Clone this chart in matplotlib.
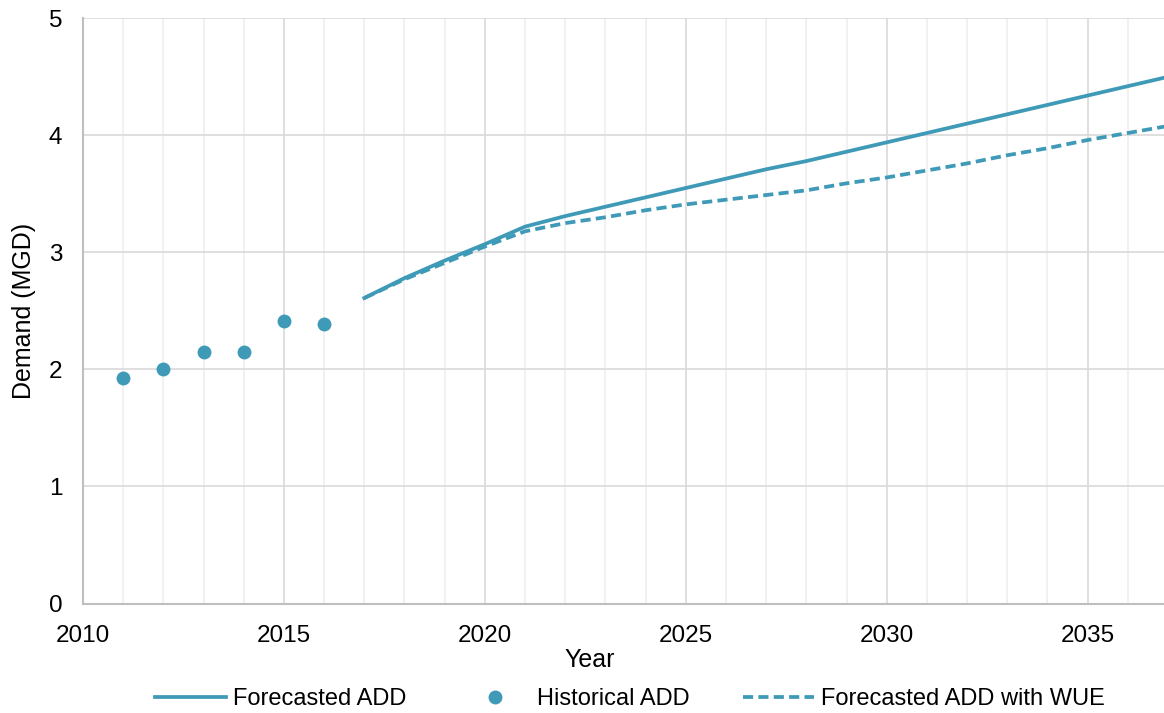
import numpy as np
import matplotlib
matplotlib.use("Agg")
import matplotlib.pyplot as plt
from matplotlib.ticker import MultipleLocator

plt.rcParams['font.family'] = ['Liberation Sans', 'DejaVu Sans']

# ---------------------- DATA ----------------------------
hist_years = [2011, 2012, 2013, 2014, 2015, 2016]
hist_add = [1.93, 2.00, 2.15, 2.15, 2.41, 2.39]

fc_years = list(range(2017, 2038))
fc_add = [2.61, 2.78, 2.93, 3.07, 3.22, 3.31, 3.39, 3.47, 3.55, 3.63, 3.71,
          3.78, 3.86, 3.94, 4.02, 4.10, 4.18, 4.26, 4.34, 4.42, 4.50]
fc_add_wue = [2.61, 2.77, 2.91, 3.05, 3.18, 3.25, 3.30, 3.36, 3.41, 3.45, 3.49,
              3.53, 3.59, 3.64, 3.70, 3.76, 3.83, 3.89, 3.96, 4.02, 4.08]

COL = "#3f9ab7"
W, H = 1164, 713

# ---------------------- PLOT ----------------------------
fig = plt.figure(figsize=(W / 100, H / 100), dpi=100)
ax = fig.add_axes([83 / W, 1 - 603.5 / H, 1 - 83 / W, (603.5 - 18.3) / H])

ax.plot(fc_years, fc_add, color=COL, lw=2.7, label="Forecasted ADD", zorder=3)
ax.plot(hist_years, hist_add, 'o', color=COL, ms=10, mec='none',
        label="Historical ADD", zorder=3)
ax.plot(fc_years, fc_add_wue, color=COL, lw=2.7, dashes=(2.7, 1.4),
        label="Forecasted ADD with WUE", zorder=3)

ax.set_xlim(2010, 2036.9)
ax.set_ylim(0, 5)
ax.xaxis.set_major_locator(MultipleLocator(5))
ax.xaxis.set_minor_locator(MultipleLocator(1))
ax.yaxis.set_major_locator(MultipleLocator(1))

ax.grid(which='major', color='#d9d9d9', lw=1.2, zorder=0)
ax.grid(which='minor', axis='x', color='#efefef', lw=1.2, zorder=0)
ax.set_axisbelow(True)

for s in ['top', 'right']:
    ax.spines[s].set_visible(False)
for s in ['left', 'bottom']:
    ax.spines[s].set_color('#bfbfbf')
    ax.spines[s].set_linewidth(1.5)

ax.tick_params(which='both', length=0, labelsize=17.5, colors='black')
ax.tick_params(axis='x', pad=15.5)
ax.tick_params(axis='y', pad=15)

ax.set_ylabel("Demand (MGD)", fontsize=18)
ax.yaxis.set_label_coords(-(83 - 36) / (W - 83), 0.5)
fig.text(590 / W, 1 - 660 / H, "Year", fontsize=18, ha='center', va='center')

fig.legend(loc='center', bbox_to_anchor=(630 / W, 1 - 699 / H), ncol=3,
           frameon=False, fontsize=17, handlelength=3.0, columnspacing=2.25,
           handletextpad=0.3, borderpad=0)

fig.savefig("out.png", dpi=100)
